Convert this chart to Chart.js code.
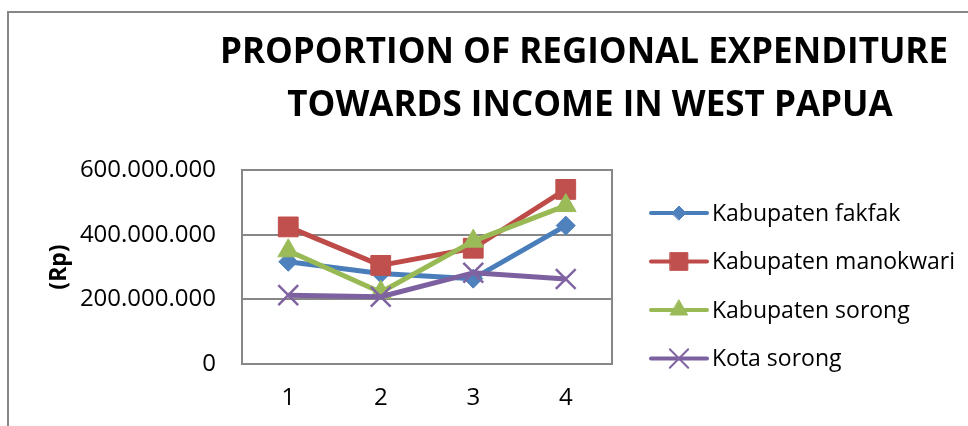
<!DOCTYPE html>
<html>
<head>
<meta charset="utf-8">
<script src="https://cdn.jsdelivr.net/npm/chart.js@4.4.1/dist/chart.umd.min.js"></script>
<style>
  body { margin: 0; background: #fff; }
  canvas { display: block; }
</style>
</head>
<body>
<canvas id="expenditure-chart" width="968" height="426"></canvas>
<script>
const categories = ['1', '2', '3', '4'];
const seriesNames = ['Kabupaten fakfak', 'Kabupaten manokwari', 'Kabupaten sorong', 'Kota sorong'];
const fakfak = [316000000, 280000000, 264000000, 428000000];
const manokwari = [424000000, 305000000, 358000000, 540000000];
const sorong = [350000000, 222000000, 380000000, 490000000];
const kotaSorong = [213000000, 208000000, 282000000, 263000000];
const yTicks = [0, 200000000, 400000000, 600000000];
const titleLines = ['PROPORTION OF REGIONAL EXPENDITURE', 'TOWARDS INCOME IN WEST PAPUA'];

const FONT = "'Open Sans', sans-serif";
const GRID = '#878787';

const fmt = (v) => v.toString().replace(/\B(?=(\d{3})+(?!\d))/g, '.');

// line colour, marker colour, marker style, marker radius (plot), marker radius (legend)
const styles = [
  { line: '#4A7EBB', mark: '#4F81BD', point: 'rectRot', r: 9.5, lr: 7 },
  { line: '#BE4B48', mark: '#C0504D', point: 'rect', r: 14, lr: 12.5 },
  { line: '#98B954', mark: '#9BBB59', point: 'triangle', r: 12, lr: 10 },
  { line: '#7D60A0', mark: '#8064A2', point: 'crossRot', r: 14, lr: 13 }
];
const values = [fakfak, manokwari, sorong, kotaSorong];

const datasets = values.map((data, i) => ({
  label: seriesNames[i],
  data: data,
  borderColor: styles[i].line,
  backgroundColor: styles[i].mark,
  borderWidth: 5,
  pointStyle: styles[i].point,
  pointRadius: styles[i].r,
  pointHoverRadius: styles[i].r,
  pointBackgroundColor: styles[i].mark,
  pointBorderColor: styles[i].mark,
  pointBorderWidth: styles[i].point === 'crossRot' ? 2.5 : 1,
  borderJoinStyle: 'round',
  tension: 0,
  order: values.length - i
}));

// frame, plot box, title and legend
const decorations = {
  id: 'decorations',
  beforeDraw(chart) {
    const ctx = chart.ctx;
    ctx.save();
    ctx.strokeStyle = GRID;
    ctx.lineWidth = 2;
    ctx.beginPath();
    ctx.moveTo(8, chart.height);
    ctx.lineTo(8, 12);
    ctx.lineTo(chart.width, 12);
    ctx.stroke();
    ctx.restore();
  },
  beforeDatasetsDraw(chart) {
    const { ctx, chartArea: a } = chart;
    ctx.save();
    ctx.strokeStyle = GRID;
    ctx.lineWidth = 2;
    ctx.strokeRect(a.left, a.top, a.right - a.left, a.bottom - a.top);
    ctx.restore();
  },
  afterDraw(chart) {
    const { ctx, chartArea: a } = chart;
    ctx.save();
    ctx.fillStyle = '#000';
    ctx.font = 'bold 35px ' + FONT;
    ctx.textAlign = 'center';
    ctx.textBaseline = 'alphabetic';
    ctx.fillText(titleLines[0], 584, 63);
    ctx.fillText(titleLines[1], 590, 116);

    ctx.font = '23px ' + FONT;
    ctx.textAlign = 'left';
    ctx.textBaseline = 'middle';
    chart.data.datasets.forEach((ds, i) => {
      const y = 213 + i * 48.5;
      const x0 = a.right + 39;
      ctx.strokeStyle = styles[i].line;
      ctx.lineWidth = 4;
      ctx.lineCap = 'round';
      ctx.beginPath();
      ctx.moveTo(x0, y);
      ctx.lineTo(x0 + 56, y);
      ctx.stroke();
      ctx.fillStyle = styles[i].mark;
      ctx.strokeStyle = styles[i].mark;
      ctx.lineWidth = styles[i].point === 'crossRot' ? 2 : 1;
      Chart.helpers.drawPoint(ctx, { pointStyle: styles[i].point, radius: styles[i].lr, rotation: 0, borderWidth: ctx.lineWidth }, x0 + 28, y);
      ctx.fillStyle = '#000';
      ctx.fillText(ds.label, x0 + 61, y + 1);
    });
    ctx.restore();
  }
};

new Chart(document.getElementById('expenditure-chart'), {
  type: 'line',
  data: { labels: categories, datasets: datasets },
  plugins: [decorations],
  options: {
    responsive: false,
    animation: false,
    layout: { padding: { top: 170, right: 356, bottom: 0, left: 46 } },
    plugins: {
      legend: { display: false },
      title: { display: false },
      tooltip: { enabled: false }
    },
    scales: {
      x: {
        offset: true,
        grid: { display: false, drawTicks: false },
        border: { display: false },
        ticks: { color: '#000', font: { family: FONT, size: 24 }, padding: 20 },
        afterFit(scale) { scale.height = 62; }
      },
      y: {
        min: 0,
        max: 600000000,
        afterBuildTicks(scale) { scale.ticks = yTicks.map(v => ({ value: v })); },
        grid: { color: GRID, lineWidth: 2, drawTicks: false },
        border: { display: false },
        ticks: { color: '#000', font: { family: FONT, size: 24 }, padding: 26, callback: (v) => fmt(v) },
        title: { display: true, text: '(Rp)', color: '#000', font: { family: FONT, size: 23, weight: 'bold' }, padding: { top: 0, bottom: 0 } },
        afterFit(scale) { scale.width = 196; }
      }
    }
  }
});
</script>
</body>
</html>
